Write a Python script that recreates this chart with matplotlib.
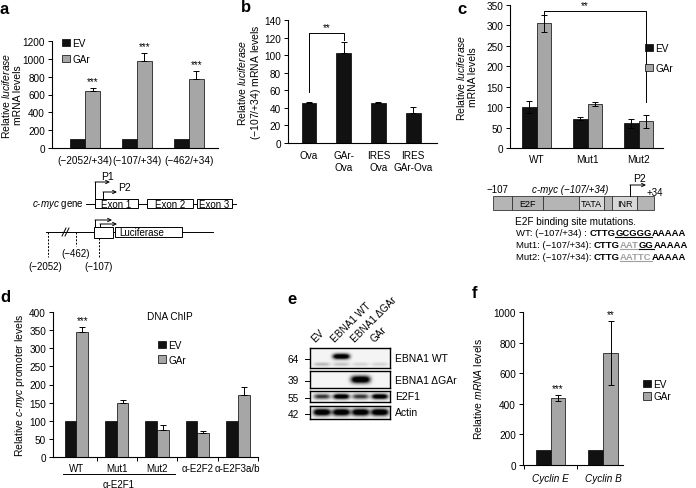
import numpy as np
import matplotlib
matplotlib.use("Agg")
import matplotlib.pyplot as plt
from matplotlib.patches import Patch, Rectangle

plt.rcParams['font.family'] = ['Liberation Sans', 'DejaVu Sans']
plt.rcParams['mathtext.fontset'] = 'custom'
plt.rcParams['mathtext.rm'] = 'Liberation Sans'
plt.rcParams['mathtext.it'] = 'Liberation Sans:italic'
plt.rcParams['mathtext.bf'] = 'Liberation Sans:bold'
plt.rcParams['font.size'] = 7

W, H = 696, 489
EV_COLOR = '#111111'
GAR_COLOR = '#a6a6a6'

# ---------------- data ----------------
a_groups = ['(−2052/+34)', '(−107/+34)', '(−462/+34)']
a_ev = [100, 100, 100]
a_gar = [640, 980, 770]
a_gar_err = [30, 80, 90]

b_groups = ['Ova', 'GAr-\nOva', 'IRES\nOva', 'IRES\nGAr-Ova']
b_vals = [46, 102, 46, 34]
b_err = [0.5, 13, 0.5, 7]

c_groups = ['WT', 'Mut1', 'Mut2']
c_ev = [100, 72, 60]
c_ev_err = [15, 3, 10]
c_gar = [305, 108, 65]
c_gar_err = [20, 5, 15]

d_groups = ['WT', 'Mut1', 'Mut2', 'α-E2F2', 'α-E2F3a/b']
d_ev = [100, 100, 100, 100, 100]
d_gar = [345, 148, 75, 65, 170]
d_gar_err = [15, 10, 13, 8, 23]

f_groups = ['Cyclin E', 'Cyclin B']
f_ev = [100, 100]
f_gar = [440, 730]
f_gar_err = [20, 210]

blot_lanes = ['EV', 'EBNA1 WT', 'EBNA1 ΔGAr', 'GAr']
blot_rows = ['EBNA1 WT', 'EBNA1 ΔGAr', 'E2F1', 'Actin']
blot_mw = ['64', '39', '55', '42']
band_ebna1_wt = [0.0, 1.0, 0.0, 0.0]
band_ebna1_bg = [0.18, 0.15, 0.1, 0.1]
band_dgar = [0.0, 0.0, 1.0, 0.0]
band_e2f1 = [0.6, 0.95, 0.6, 0.95]
band_actin = [1.0, 1.0, 1.0, 1.0]

fig = plt.figure(figsize=(W / 100, H / 100), dpi=100)


def px_axes(x0, y0, x1, y1):
    return fig.add_axes([x0 / W, 1 - y1 / H, (x1 - x0) / W, (y1 - y0) / H])


def style(ax, pad):
    for s in ['top', 'right']:
        ax.spines[s].set_visible(False)
    for s in ['left', 'bottom']:
        ax.spines[s].set_linewidth(0.8)
    ax.tick_params(axis='y', direction='out', length=3, width=0.7, labelsize=7.2, pad=2)
    ax.tick_params(axis='x', length=0, labelsize=7.2, pad=pad)


def legend(ax, x, y, spacing):
    h = [Patch(facecolor=EV_COLOR, edgecolor='black', lw=0.5),
         Patch(facecolor=GAR_COLOR, edgecolor='black', lw=0.5)]
    ax.legend(h, ['EV', 'GAr'], loc='upper left', bbox_to_anchor=(x / W, 1 - y / H),
              bbox_transform=fig.transFigure, frameon=False, fontsize=7.2,
              handlelength=0.75, handleheight=0.75, handletextpad=0.3,
              labelspacing=spacing, borderpad=0, borderaxespad=0)


def paired(ax, ev, gar, width, ev_err=None, gar_err=None, both=False):
    x = np.arange(len(ev))
    ax.bar(x - width / 2, ev, width, color=EV_COLOR, edgecolor='black', lw=0.5, zorder=2)
    ax.bar(x + width / 2, gar, width, color=GAR_COLOR, edgecolor='black', lw=0.5, zorder=2)
    if ev_err is not None:
        ax.errorbar(x - width / 2, ev, yerr=ev_err, fmt='none', ecolor='black',
                    elinewidth=0.7, capsize=2, capthick=0.7, zorder=3)
    if gar_err is not None:
        yerr = gar_err if both else [np.zeros(len(gar)), gar_err]
        ax.errorbar(x + width / 2, gar, yerr=yerr, fmt='none', ecolor='black',
                    elinewidth=0.7, capsize=2, capthick=0.7, zorder=3)
    return x


# ---------------- panel a ----------------
ax = px_axes(52, 42, 218, 149)
style(ax, 5)
w = 0.29
x = paired(ax, a_ev, a_gar, w, gar_err=a_gar_err)
for xi, v, e in zip(x, a_gar, a_gar_err):
    ax.text(xi + w / 2, v + e + 25, '***', ha='center', va='bottom', fontsize=7)
ax.set_xlim(-0.635, 2.56)
ax.set_ylim(0, 1200)
ax.set_yticks(range(0, 1201, 200))
ax.set_xticks(x)
ax.set_xticklabels(a_groups)
ax.set_ylabel('Relative $\\it{luciferase}$\nmRNA levels', fontsize=7.5, linespacing=1.1)
ax.yaxis.set_label_coords((23 - 52) / 166, 0.5)
legend(ax, 62, 39, 0.6)

# ---------------- panel b ----------------
ax = px_axes(288, 21, 437, 144)
style(ax, 5)
xb = np.arange(len(b_vals))
bw = 0.43
ax.bar(xb, b_vals, bw, color=EV_COLOR, edgecolor='black', lw=0.5, zorder=2)
ax.errorbar(xb, b_vals, yerr=[np.zeros(len(b_err)), b_err], fmt='none', ecolor='black',
            elinewidth=0.7, capsize=2, capthick=0.7, zorder=3)
ax.plot([0, 0, 1, 1], [58, 125, 125, 117], color='black', lw=0.7)
ax.text(0.5, 126, '**', ha='center', va='bottom', fontsize=7)
ax.set_xlim(-0.605, 3.69)
ax.set_ylim(0, 140)
ax.set_yticks(range(0, 141, 20))
ax.set_xticks(xb)
ax.set_xticklabels(b_groups, linespacing=1.25)
ax.set_ylabel('Relative $\\it{luciferase}$\n$\\it{(−107/}$$\\it{{+}34)}$ mRNA levels',
              fontsize=7.5, linespacing=1.1)
ax.yaxis.set_label_coords((263 - 288) / 149, 0.5)

# ---------------- panel c ----------------
ax = px_axes(510, 6, 663, 149)
style(ax, 4)
w = 0.29
x = paired(ax, c_ev, c_gar, w, ev_err=c_ev_err, gar_err=c_gar_err, both=True)
ax.plot([w / 2, w / 2, 2 + w / 2, 2 + w / 2], [326, 336, 336, 113], color='black', lw=0.7,
        clip_on=False)
ax.text(0.95, 337, '**', ha='center', va='bottom', fontsize=7)
ax.set_xlim(-0.52, 2.48)
ax.set_ylim(0, 350)
ax.set_yticks(range(0, 351, 50))
ax.set_xticks(x)
ax.set_xticklabels(c_groups)
ax.set_ylabel('Relative $\\it{luciferase}$\nmRNA levels', fontsize=7.5, linespacing=1.1)
ax.yaxis.set_label_coords((478 - 510) / 153, 0.5)
legend(ax, 645, 44, 1.0)

# ---------------- panel d ----------------
ax = px_axes(53, 313, 258, 458)
style(ax, 4)
w = 0.29
x = paired(ax, d_ev, d_gar, w, gar_err=d_gar_err)
ax.text(w / 2, d_gar[0] + d_gar_err[0] + 5, '***', ha='center', va='bottom', fontsize=7)
ax.set_xlim(-0.578, 4.36)
ax.set_ylim(0, 400)
ax.set_yticks(range(0, 401, 50))
ax.set_xticks(x)
ax.set_xticklabels(d_groups, fontsize=7)
ax.set_xticks(np.arange(len(d_groups)) + 0.5, minor=True)
ax.tick_params(axis='x', which='minor', length=3, width=0.7)
ax.set_ylabel('Relative $\\it{c}$-$\\it{myc}$ promoter levels', fontsize=7.5)
ax.yaxis.set_label_coords((27 - 53) / 205, 0.5)
legend(ax, 158, 341, 0.45)

# ---------------- panel f ----------------
ax = px_axes(523, 313, 623, 466)
style(ax, 6)
w = 0.283
x = paired(ax, f_ev, f_gar, w, gar_err=f_gar_err, both=True)
for xi, v, e, s in zip(x, f_gar, f_gar_err, ['***', '**']):
    ax.text(xi + w / 2, v + e + 12, s, ha='center', va='bottom', fontsize=7)
ax.set_xlim(-0.52, 1.37)
ax.set_ylim(0, 1000)
ax.set_yticks(range(0, 1001, 200))
ax.set_xticks(x)
ax.set_xticklabels(f_groups, style='italic')
ax.set_xticks([-0.5, 0.5], minor=True)
ax.tick_params(axis='x', which='minor', length=3, width=0.7)
ax.set_ylabel('Relative $\\it{mRNA}$ levels', fontsize=7.5)
ax.yaxis.set_label_coords((484 - 523) / 100, 0.5)
legend(ax, 643, 380, 0.25)

# ---------------- panel e (blot) ----------------
lane_x0, lane_x1 = -0.62, 3.52
xs = np.linspace(lane_x0, lane_x1, 300)
strips = [
    (349, 369, [(band_ebna1_wt, 0.42, 0.14, 0.44), (band_ebna1_bg, 0.82, 0.1, 0.42)]),
    (372, 389, [(band_dgar, 0.5, 0.22, 0.5)]),
    (392, 403, [(band_e2f1, 0.5, 0.24, 0.42)]),
    (407, 420, [(band_actin, 0.48, 0.27, 0.45)]),
]
for (y0, y1, bands), name, mw in zip(strips, blot_rows, blot_mw):
    bax = px_axes(310, y0, 390, y1)
    ys = np.linspace(0, 1, 60)
    X, Y = np.meshgrid(xs, ys)
    img = np.full_like(X, 0.04)
    for inten, yc, bh, bwid in bands:
        for li, v in enumerate(inten):
            img += 1.3 * v * np.exp(-np.abs((X - li) / bwid) ** 4) * np.exp(-((Y - yc) / bh) ** 2)
    bax.imshow(np.clip(img, 0, 1), cmap='gray_r', vmin=0, vmax=1.0, aspect='auto',
               extent=(lane_x0, lane_x1, 1, 0), interpolation='bilinear')
    bax.set_xticks([])
    bax.set_yticks([])
    for s in bax.spines.values():
        s.set_linewidth(1.0)
    ym = (y0 + y1) / 2
    fig.text(395 / W, 1 - ym / H, name, ha='left', va='center', fontsize=7.5)

# ---------------- overlay: diagrams & annotations ----------------
ov = fig.add_axes([0, 0, 1, 1])
ov.set_xlim(0, W)
ov.set_ylim(H, 0)
ov.axis('off')
LW = 0.7


def arrow(x0, x1, y):
    ov.annotate('', xy=(x1, y), xytext=(x0, y),
                arrowprops=dict(arrowstyle='->', lw=LW, color='black',
                                shrinkA=0, shrinkB=0, mutation_scale=6))


# panel letters
for ch, (lx, ly) in zip('abcdef', [(0, 9), (241, 8), (457, 9), (0, 298), (287, 299), (472, 294)]):
    ov.text(lx, ly, ch, fontsize=12, fontweight='bold', ha='left', va='center')

# panel a diagram: c-myc gene
ov.text(84, 205, '$\\it{c}$-$\\it{myc}$ gene', ha='right', va='center', fontsize=7)
ov.plot([86, 95], [205, 205], color='black', lw=LW)
for bx0, bx1, lab in [(95, 138, 'Exon 1'), (147, 193, 'Exon 2'), (197, 232, 'Exon 3')]:
    ov.add_patch(Rectangle((bx0, 200), bx1 - bx0, 9, fc='white', ec='black', lw=LW))
    ov.text((bx0 + bx1) / 2, 204.8, lab, ha='center', va='center', fontsize=7)
ov.plot([138, 147], [205, 205], color='black', lw=LW)
ov.plot([193, 197], [205, 205], color='black', lw=LW)
ov.plot([232, 236], [205, 205], color='black', lw=LW)
ov.plot([95, 95], [200, 183], color='black', lw=LW)
arrow(95, 110, 183)
ov.plot([103, 103], [200, 193], color='black', lw=LW)
arrow(103, 117, 193)
ov.text(101, 177, 'P1', ha='left', va='center', fontsize=7.5)
ov.text(118, 188, 'P2', ha='left', va='center', fontsize=7.5)

# luciferase construct
ov.plot([46, 94], [233, 233], color='black', lw=LW)
ov.plot([113, 115], [233, 233], color='black', lw=LW)
ov.plot([182, 213], [233, 233], color='black', lw=LW)
ov.add_patch(Rectangle((94, 228), 19, 11, fc='white', ec='black', lw=LW))
ov.add_patch(Rectangle((115, 228), 67, 10, fc='white', ec='black', lw=LW))
ov.text(119, 233, 'Luciferase', ha='left', va='center', fontsize=7)
ov.plot([62, 66], [237, 229], color='black', lw=LW)
ov.plot([65, 69], [237, 229], color='black', lw=LW)
ov.plot([95, 95], [228, 221], color='black', lw=LW)
arrow(95, 112, 221)
ov.plot([100, 100], [228, 225], color='black', lw=LW)
arrow(100, 117, 225)
ov.plot([48, 48], [233, 258], color='black', lw=LW, ls=(0, (2, 1.5)))
ov.plot([76, 76], [233, 247], color='black', lw=LW, ls=(0, (2, 1.5)))
ov.plot([99, 99], [239, 258], color='black', lw=LW, ls=(0, (2, 1.5)))
ov.text(76, 254, '(−462)', ha='center', va='center', fontsize=7)
ov.text(45, 267, '(−2052)', ha='center', va='center', fontsize=7)
ov.text(99, 267, '(−107)', ha='center', va='center', fontsize=7)

# panel c diagram
seg_edges = [493, 512, 543, 579, 604, 612, 637, 654]
seg_fill = ['#b5b5b5', '#b5b5b5', '#b5b5b5', '#d8d8d8', '#b5b5b5', '#d8d8d8', '#b5b5b5']
for sx0, sx1, fc in zip(seg_edges[:-1], seg_edges[1:], seg_fill):
    ov.add_patch(Rectangle((sx0, 197), sx1 - sx0, 14, fc=fc, ec='#333333', lw=0.6))
for sx, lab in [(527.5, 'E2F'), (591.5, 'TATA'), (624.5, 'INR')]:
    ov.text(sx, 204.5, lab, ha='center', va='center', fontsize=6.5)
ov.text(497, 190, '−107', ha='center', va='center', fontsize=7)
ov.text(570, 190, 'c-myc (−107/+34)', ha='center', va='center', fontsize=7, style='italic')
ov.plot([630, 630], [197, 186], color='black', lw=LW)
arrow(630, 646, 186)
ov.text(640, 179, 'P2', ha='center', va='center', fontsize=7.5)
ov.text(647, 193, '+34', ha='left', va='center', fontsize=7)
ov.text(515, 222, 'E2F binding site mutations.', ha='left', va='center', fontsize=7.2)

seq_lines = [
    (233, [('WT: (−107/+34) : ', 'normal', 'black', False), ('CTTG', 'bold', 'black', False),
           ('GCGGG', 'bold', 'black', True), ('AAAAA', 'bold', 'black', False)]),
    (245, [('Mut1: (−107/+34): ', 'normal', 'black', False), ('CTTG', 'bold', 'black', False),
           ('AAT', 'bold', '#a0a0a0', True), ('GG', 'bold', 'black', True),
           ('AAAAA', 'bold', 'black', False)]),
    (257, [('Mut2: (−107/+34): ', 'normal', 'black', False), ('CTTG', 'bold', 'black', False),
           ('AATTC', 'bold', '#a0a0a0', True), ('AAAAA', 'bold', 'black', False)]),
]
renderer = fig.canvas.get_renderer()
for sy, runs in seq_lines:
    cx = 516
    for txt, wt, col, ul in runs:
        t = ov.text(cx, sy, txt.replace(' ', '\u00a0'), ha='left', va='center',
                    fontsize=6.8, fontweight=wt, color=col)
        bb = t.get_window_extent(renderer)
        wpx = bb.width * 100 / fig.dpi
        if ul:
            ov.plot([cx, cx + wpx], [sy + 5, sy + 5], color=col, lw=0.8)
        cx += wpx

# panel d annotations
ov.text(170, 317, 'DNA ChIP', ha='center', va='center', fontsize=7.2)
ov.plot([63, 175], [475, 475], color='black', lw=LW)
ov.text(119, 485, 'α-E2F1', ha='center', va='center', fontsize=7)

# panel e annotations
for (y0, y1, _), mw in zip(strips, blot_mw):
    ym = (y0 + y1) / 2 + 1
    ov.text(293, ym, mw, ha='center', va='center', fontsize=7.2)
    ov.plot([305, 310], [ym, ym], color='black', lw=LW)
for li, lab in enumerate(blot_lanes):
    lx = 317 + li * 19.5
    ov.text(lx, 344, lab, rotation=45, rotation_mode='anchor', ha='left', va='bottom',
            fontsize=7.2)

fig.savefig('out.png', dpi=100)
